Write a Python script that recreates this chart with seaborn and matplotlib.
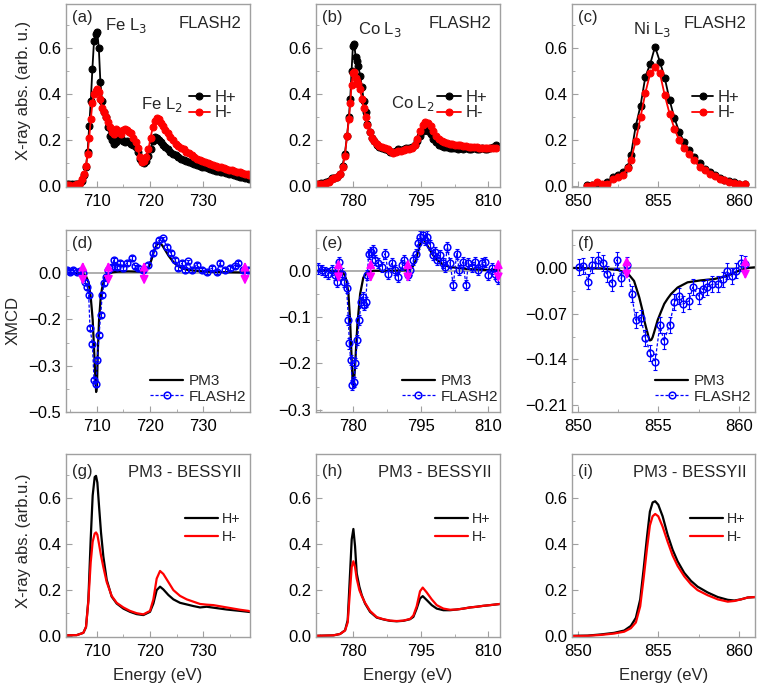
import matplotlib
matplotlib.use("Agg")
import matplotlib.pyplot as plt
from matplotlib.ticker import MultipleLocator, FixedLocator, FixedFormatter
import seaborn as sns

# ---------------- FLASH2 absorption (top row) ----------------
fe_E = [704.4, 704.9, 705.4, 705.9, 706.4, 706.9, 707.3, 707.7, 708.0, 708.3,
        708.6, 708.9, 709.2, 709.5, 709.8, 710.1, 710.4, 710.7, 711.0, 711.3,
        711.7, 712.1, 712.5, 712.9, 713.3, 713.7, 714.1, 714.5, 714.9, 715.3,
        715.7, 716.1, 716.5, 716.9, 717.3, 717.7, 718.1, 718.5, 718.9, 719.3,
        719.7, 720.1, 720.5, 720.9, 721.3, 721.7, 722.1, 722.5, 722.9, 723.3,
        723.8, 724.3, 724.8, 725.3, 725.8, 726.3, 726.8, 727.3, 727.8, 728.3,
        728.8, 729.3, 729.8, 730.3, 730.8, 731.3, 731.8, 732.3, 732.8, 733.3,
        733.8, 734.3, 734.8, 735.3, 735.8, 736.3, 736.8, 737.3, 737.8, 738.3,
        738.6]
fe_hp = [0.012, 0.010, 0.011, 0.009, 0.012, 0.015, 0.025, 0.050, 0.085, 0.150,
         0.260, 0.370, 0.510, 0.630, 0.660, 0.670, 0.600, 0.450, 0.370, 0.320,
         0.300, 0.255, 0.220, 0.200, 0.185, 0.190, 0.205, 0.210, 0.195, 0.190,
         0.195, 0.190, 0.185, 0.180, 0.170, 0.150, 0.120, 0.105, 0.100, 0.110,
         0.130, 0.160, 0.195, 0.215, 0.210, 0.200, 0.190, 0.180, 0.170, 0.160,
         0.150, 0.140, 0.135, 0.125, 0.120, 0.115, 0.110, 0.105, 0.100, 0.095,
         0.092, 0.088, 0.085, 0.082, 0.078, 0.075, 0.072, 0.068, 0.066, 0.063,
         0.060, 0.058, 0.055, 0.052, 0.050, 0.045, 0.042, 0.040, 0.036, 0.034,
         0.030]
fe_hm = [0.004, 0.006, 0.003, 0.005, 0.008, 0.015, 0.030, 0.055, 0.090, 0.140,
         0.210, 0.290, 0.360, 0.400, 0.415, 0.420, 0.410, 0.380, 0.340, 0.320,
         0.300, 0.280, 0.255, 0.235, 0.225, 0.250, 0.240, 0.225, 0.245, 0.250,
         0.245, 0.235, 0.230, 0.210, 0.190, 0.165, 0.125, 0.105, 0.110, 0.125,
         0.160, 0.210, 0.255, 0.285, 0.295, 0.290, 0.275, 0.260, 0.245, 0.230,
         0.215, 0.200, 0.185, 0.175, 0.165, 0.160, 0.150, 0.145, 0.135, 0.125,
         0.120, 0.115, 0.110, 0.105, 0.100, 0.098, 0.093, 0.090, 0.085, 0.082,
         0.078, 0.075, 0.072, 0.070, 0.066, 0.063, 0.060, 0.058, 0.055, 0.052,
         0.050]

co_E = [772.2, 772.8, 773.4, 774.0, 774.6, 775.2, 775.8, 776.4, 777.0, 777.6,
        778.1, 778.6, 779.0, 779.3, 779.6, 779.9, 780.2, 780.5, 780.8, 781.1,
        781.5, 781.9, 782.3, 782.7, 783.1, 783.6, 784.1, 784.6, 785.2, 785.8,
        786.4, 787.0, 787.6, 788.2, 788.8, 789.4, 790.0, 790.6, 791.2, 791.8,
        792.4, 793.0, 793.6, 794.2, 794.8, 795.4, 796.0, 796.6, 797.2, 797.8,
        798.4, 799.0, 799.6, 800.2, 800.8, 801.4, 802.0, 802.6, 803.2, 803.8,
        804.4, 805.0, 805.6, 806.2, 806.8, 807.4, 808.0, 808.6, 809.2, 809.8,
        810.4, 811.0, 811.6]
co_hp = [0.012, 0.014, 0.015, 0.018, 0.022, 0.035, 0.038, 0.042, 0.055, 0.090,
         0.140, 0.220, 0.300, 0.380, 0.500, 0.610, 0.615, 0.560, 0.545, 0.520,
         0.480, 0.430, 0.370, 0.320, 0.270, 0.235, 0.210, 0.195, 0.180, 0.170,
         0.165, 0.160, 0.158, 0.150, 0.150, 0.155, 0.160, 0.158, 0.162, 0.165,
         0.168, 0.172, 0.178, 0.195, 0.220, 0.240, 0.250, 0.240, 0.225, 0.205,
         0.190, 0.180, 0.175, 0.170, 0.170, 0.168, 0.165, 0.165, 0.163, 0.165,
         0.162, 0.165, 0.163, 0.162, 0.165, 0.163, 0.162, 0.165, 0.163, 0.162,
         0.165, 0.170, 0.180]
co_hm = [0.008, 0.010, 0.012, 0.015, 0.020, 0.030, 0.035, 0.040, 0.055, 0.085,
         0.130, 0.220, 0.290, 0.360, 0.440, 0.490, 0.495, 0.470, 0.455, 0.445,
         0.420, 0.380, 0.340, 0.300, 0.265, 0.235, 0.210, 0.195, 0.185, 0.175,
         0.170, 0.165, 0.160, 0.155, 0.145, 0.150, 0.152, 0.155, 0.158, 0.160,
         0.162, 0.165, 0.180, 0.205, 0.240, 0.265, 0.280, 0.275, 0.260, 0.240,
         0.220, 0.205, 0.198, 0.192, 0.188, 0.185, 0.182, 0.180, 0.178, 0.177,
         0.175, 0.174, 0.172, 0.172, 0.170, 0.170, 0.168, 0.168, 0.167, 0.167,
         0.166, 0.165, 0.166]

ni_E = [850.6, 850.9, 851.2, 851.5, 851.8, 852.2, 852.5, 852.8, 853.1, 853.3,
        853.6, 853.9, 854.2, 854.5, 854.8, 855.1, 855.4, 855.7, 856.0, 856.3,
        856.6, 856.9, 857.2, 857.6, 857.9, 858.2, 858.5, 858.8, 859.1, 859.4,
        859.7, 860.0, 860.4]
ni_hp = [0.007, 0.004, 0.006, 0.005, 0.020, 0.040, 0.048, 0.062, 0.084, 0.135,
         0.260, 0.350, 0.475, 0.530, 0.605, 0.540, 0.470, 0.375, 0.295, 0.236,
         0.193, 0.156, 0.128, 0.099, 0.077, 0.062, 0.048, 0.036, 0.029, 0.022,
         0.017, 0.012, 0.009]
ni_hm = [0.003, 0.005, 0.020, 0.012, 0.010, 0.030, 0.040, 0.050, 0.080, 0.115,
         0.195, 0.300, 0.405, 0.490, 0.515, 0.490, 0.395, 0.315, 0.250, 0.200,
         0.164, 0.142, 0.113, 0.084, 0.070, 0.055, 0.045, 0.033, 0.026, 0.019,
         0.014, 0.012, 0.009]

# ---------------- XMCD (middle row) ----------------
fe_xE = [704.4, 705.0, 705.6, 706.3, 706.9, 707.4, 707.8, 708.25, 708.5, 708.75,
         709.2, 709.5, 709.9, 710.1, 710.45, 710.75, 711.05, 711.4, 711.75, 712.2,
         712.8, 713.25, 713.75, 714.4, 715.0, 715.6, 716.55, 717.2, 717.8, 718.75,
         719.7, 720.5, 721.1, 721.75, 722.5, 723.1, 723.9, 724.7, 725.3, 725.95,
         726.55, 727.2, 727.8, 728.75, 729.7, 730.6, 731.55, 732.5, 733.1, 734.05,
         735.0, 735.95, 736.55, 737.5, 738.45]
fe_xmcd = [0.010, 0.005, 0.010, 0.004, 0.006, 0.000, -0.027, -0.045, -0.070, -0.178,
           -0.229, -0.345, -0.360, -0.280, -0.200, -0.135, -0.070, -0.032, -0.011, 0.011,
           0.020, 0.043, 0.020, 0.032, 0.016, 0.032, 0.049, 0.022, 0.016, 0.011,
           0.027, 0.065, 0.092, 0.108, 0.113, 0.086, 0.065, 0.043, 0.016, 0.032,
           0.011, 0.038, 0.011, 0.027, 0.011, 0.005, 0.016, 0.005, 0.032, 0.011,
           0.016, 0.022, 0.032, 0.011, 0.011]
fe_err = 0.006
fe_pmE = [704.25, 706.0, 707.0, 707.6, 708.0, 708.5, 708.9, 709.25, 709.55, 709.75,
          709.9, 710.05, 710.2, 710.45, 710.75, 711.0, 711.5, 712.0, 713.0, 714.0,
          716.0, 718.0, 719.0, 719.8, 720.3, 720.8, 721.3, 721.8, 722.3, 722.8,
          723.5, 724.2, 725.0, 726.0, 727.0, 729.0, 732.0, 735.0, 738.75]
fe_pm = [0.0, 0.0, -0.001, -0.004, -0.01, -0.03, -0.08, -0.15, -0.26, -0.34,
         -0.385, -0.37, -0.26, -0.15, -0.08, -0.05, -0.015, -0.003, 0.003, 0.005,
         0.006, 0.005, 0.008, 0.02, 0.045, 0.075, 0.093, 0.098, 0.09, 0.076,
         0.056, 0.04, 0.026, 0.016, 0.011, 0.007, 0.004, 0.003, 0.002]
fe_arrows = [707.4, 712.2, 718.9, 737.8]

co_xE = [772.2, 773.0, 773.7, 774.4, 775.2, 775.9, 776.4, 776.8, 777.4, 777.9,
         778.5, 778.9, 779.1, 779.4, 779.8, 780.15, 780.45, 780.9, 781.3, 781.7,
         782.1, 782.45, 782.75, 783.1, 783.4, 783.85, 784.3, 784.8, 785.55, 786.3,
         787.05, 787.8, 788.5, 789.25, 790.0, 790.75, 791.35, 792.05, 792.6, 793.35,
         793.85, 794.3, 794.8, 795.4, 795.95, 796.3, 797.05, 797.65, 798.15, 798.65,
         799.25, 799.85, 800.35, 800.9, 801.5, 802.2, 802.95, 803.55, 804.3, 805.05,
         805.55, 806.3, 807.05, 807.8, 808.5, 809.25, 810.0, 810.75, 811.5, 812.2]
co_xmcd = [0.005, 0.001, -0.002, -0.006, 0.001, -0.009, -0.024, 0.019, -0.006, -0.024,
           -0.038, -0.107, -0.157, -0.193, -0.247, -0.240, -0.200, -0.150, -0.107, -0.067,
           -0.056, -0.074, -0.067, -0.009, 0.037, 0.041, 0.045, 0.023, 0.016, 0.009,
           0.037, -0.006, 0.016, 0.001, -0.013, 0.012, 0.023, -0.009, 0.001, 0.023,
           0.037, 0.059, 0.074, 0.077, 0.066, 0.074, 0.056, 0.034, 0.041, 0.023,
           0.034, 0.016, 0.009, 0.052, 0.016, -0.031, 0.037, 0.001, 0.019, -0.031,
           0.016, 0.009, 0.019, 0.001, 0.016, 0.019, -0.009, 0.005, -0.006, -0.017]
co_err = 0.011
co_pmE = [771.7, 775.6, 777.4, 778.0, 778.5, 778.9, 779.26, 779.63, 779.85, 780.0,
          780.15, 780.37, 780.9, 781.5, 782.2, 782.96, 784.4, 788.1, 791.85, 793.0,
          793.7, 794.4, 795.0, 795.4, 795.9, 796.7, 797.6, 798.5, 800.0, 801.5,
          805.2, 808.9, 812.6]
co_pm = [0.0, 0.0, -0.002, -0.008, -0.022, -0.05, -0.105, -0.195, -0.24, -0.25,
         -0.24, -0.205, -0.115, -0.05, -0.015, -0.004, 0.0, 0.0, 0.001, 0.006,
         0.018, 0.042, 0.062, 0.068, 0.064, 0.05, 0.035, 0.024, 0.013, 0.008,
         0.004, 0.002, 0.001]
co_arrows = [776.7, 783.85, 792.1, 812.2]

ni_xE = [850.1, 850.35, 850.65, 850.9, 851.25, 851.55, 851.8, 852.1, 852.45, 852.7,
         853.05, 853.35, 853.6, 853.9, 854.2, 854.5, 854.8, 855.1, 855.35, 855.7,
         856.0, 856.3, 856.55, 856.9, 857.15, 857.5, 857.75, 858.05, 858.35, 858.7,
         859.0, 859.25, 859.55, 859.85, 860.15, 860.4]
ni_xmcd = [0.001, 0.0025, -0.021, 0.005, 0.0126, 0.0076, -0.009, -0.0227, 0.0126, -0.016,
           0.005, -0.040, -0.080, -0.076, -0.107, -0.130, -0.144, -0.087, -0.112, -0.087,
           -0.052, -0.043, -0.0555, -0.0505, -0.029, -0.043, -0.032, -0.029, -0.025, -0.025,
           -0.0177, -0.005, -0.0126, -0.004, 0.0076, 0.006]
ni_err = 0.012
ni_pmE = [849.65, 851.44, 852.47, 853.1, 853.5, 853.82, 853.92, 854.03, 854.13, 854.23,
          854.34, 854.4, 854.48, 854.57, 854.65, 854.75, 854.96, 855.17, 855.37, 855.58,
          855.79, 856.2, 856.82, 857.65, 858.48, 859.3, 859.93, 860.55, 861.0]
ni_pm = [0.0, -0.001, -0.003, -0.008, -0.02, -0.045, -0.055, -0.066, -0.08, -0.09,
         -0.1, -0.106, -0.111, -0.11, -0.106, -0.098, -0.08, -0.067, -0.055, -0.047,
         -0.04, -0.03, -0.022, -0.019, -0.017, -0.012, -0.005, 0.0, 0.001]
ni_arrows = [853.05, 860.4]

# ---------------- PM3 - BESSYII absorption (bottom row) ----------------
g_E = [704.25, 706.25, 707.5, 708.0, 708.44, 708.88, 709.25, 709.63, 709.88, 710.13,
       710.44, 710.81, 711.25, 711.88, 712.81, 713.75, 715.0, 716.25, 717.5, 718.75,
       720.0, 720.63, 721.25, 721.88, 722.5, 723.44, 724.38, 725.63, 726.88, 728.13,
       729.38, 730.63, 731.88, 733.13, 734.38, 735.63, 736.88, 738.44, 738.75]
g_hp = [0.004, 0.005, 0.015, 0.040, 0.157, 0.420, 0.610, 0.690, 0.695, 0.666,
        0.565, 0.450, 0.346, 0.245, 0.172, 0.142, 0.120, 0.106, 0.096, 0.092,
        0.106, 0.142, 0.200, 0.215, 0.203, 0.179, 0.160, 0.145, 0.138, 0.131,
        0.125, 0.128, 0.124, 0.120, 0.116, 0.113, 0.110, 0.106, 0.105]
g_hm = [0.004, 0.005, 0.015, 0.040, 0.150, 0.320, 0.410, 0.445, 0.450, 0.440,
        0.400, 0.350, 0.300, 0.235, 0.175, 0.145, 0.125, 0.110, 0.100, 0.095,
        0.110, 0.160, 0.250, 0.283, 0.270, 0.235, 0.200, 0.175, 0.160, 0.150,
        0.140, 0.137, 0.135, 0.130, 0.125, 0.120, 0.115, 0.110, 0.108]

h_E = [771.7, 775.56, 777.04, 778.15, 778.74, 779.26, 779.63, 780.0, 780.37, 780.74,
       781.33, 781.85, 782.59, 783.7, 785.19, 786.67, 788.15, 789.63, 791.11, 792.59,
       793.33, 794.07, 794.81, 795.41, 796.3, 797.41, 798.52, 800.0, 801.48, 802.96,
       804.44, 805.93, 807.41, 808.89, 810.37, 812.59]
h_hp = [0.002, 0.004, 0.010, 0.026, 0.070, 0.273, 0.420, 0.465, 0.390, 0.273,
        0.215, 0.179, 0.142, 0.106, 0.081, 0.073, 0.067, 0.065, 0.067, 0.074,
        0.084, 0.120, 0.164, 0.174, 0.157, 0.135, 0.120, 0.113, 0.113, 0.116,
        0.120, 0.125, 0.128, 0.132, 0.135, 0.140]
h_hm = [0.002, 0.004, 0.010, 0.025, 0.060, 0.200, 0.300, 0.325, 0.300, 0.250,
        0.200, 0.175, 0.145, 0.110, 0.083, 0.074, 0.068, 0.066, 0.068, 0.075,
        0.090, 0.130, 0.195, 0.211, 0.190, 0.160, 0.135, 0.120, 0.115, 0.116,
        0.120, 0.125, 0.128, 0.132, 0.135, 0.140]

i_E = [849.68, 850.61, 851.44, 852.27, 852.89, 853.3, 853.61, 853.88, 854.09, 854.3,
       854.48, 854.65, 854.81, 855.0, 855.27, 855.58, 855.89, 856.2, 856.61, 857.03,
       857.44, 858.06, 858.69, 859.31, 859.72, 860.13, 860.55, 861.0]
i_hp = [0.002, 0.003, 0.008, 0.015, 0.025, 0.045, 0.080, 0.160, 0.290, 0.430,
        0.540, 0.580, 0.585, 0.570, 0.520, 0.440, 0.375, 0.325, 0.275, 0.240,
        0.215, 0.190, 0.170, 0.158, 0.155, 0.160, 0.168, 0.170]
i_hm = [0.001, 0.002, 0.006, 0.012, 0.020, 0.035, 0.060, 0.130, 0.250, 0.380,
        0.480, 0.520, 0.530, 0.520, 0.475, 0.410, 0.350, 0.305, 0.260, 0.225,
        0.200, 0.178, 0.160, 0.150, 0.153, 0.160, 0.168, 0.170]

# tick labels of the XMCD panels (as printed in the figure)
fe_yt = [0.0, -0.15, -0.30, -0.45]
fe_ytl = ["0.0", "\u22120.2", "\u22120.3", "\u22120.5"]
co_yt = [0.0, -0.1, -0.2, -0.3]
co_ytl = ["0.0", "\u22120.1", "\u22120.2", "\u22120.3"]
ni_yt = [0.0, -0.07, -0.14, -0.21]
ni_ytl = ["0.00", "\u22120.07", "\u22120.14", "\u22120.21"]

#%%
sns.set_style("ticks")
plt.rcParams["font.family"] = ["Liberation Sans", "DejaVu Sans"]
plt.rcParams["axes.unicode_minus"] = True

FS = 12
FS_MID = 11
FS_BOT = 10.3
GRAY = "#a0a0a0"

fig = plt.figure(figsize=(7.63, 6.85), dpi=100)
lefts = [0.0865, 0.4142, 0.7497]
widths = [0.2412, 0.2412, 0.2398]
bottoms = [0.7270, 0.3985, 0.0701]
heights = [0.2672, 0.2657, 0.2672]
axs = [[fig.add_axes([lefts[c], bottoms[r], widths[c], heights[r]]) for c in range(3)]
       for r in range(3)]

xlims = [(704.25, 738.75), (771.7, 812.6), (849.65, 861.0)]
xmaj = [10, 15, 5]
xmin = [5, 7.5, 2.5]


def style(ax, c):
    ax.set_xlim(*xlims[c])
    ax.xaxis.set_major_locator(MultipleLocator(xmaj[c]))
    ax.xaxis.set_minor_locator(MultipleLocator(xmin[c]))
    for s in ax.spines.values():
        s.set_color(GRAY)
        s.set_linewidth(1.0)
    ax.tick_params(which="both", direction="in", color=GRAY, labelsize=FS,
                   labelcolor="black", top=False, right=False)
    ax.tick_params(which="major", length=4)
    ax.tick_params(which="minor", length=2.5)
    ax.tick_params(axis="x", pad=5)
    ax.tick_params(axis="y", pad=3.5)
    ax.set_xlabel("")
    ax.set_ylabel("")


def spectra(ax, e, hp, hm, dots, lx, ly, hl, fs, sp):
    if dots:
        kw = dict(marker="o", markersize=5, linewidth=1.3)
    else:
        kw = dict(linewidth=1.6)
    sns.lineplot(x=e, y=hp, ax=ax, color="black", markeredgecolor="black",
                 label="H+", sort=False, estimator=None, **kw)
    sns.lineplot(x=e, y=hm, ax=ax, color="red", markeredgecolor="red",
                 label="H-", sort=False, estimator=None, **kw)
    ax.set_ylim(-0.003, 0.79)
    ax.yaxis.set_major_locator(MultipleLocator(0.2))
    ax.yaxis.set_minor_locator(MultipleLocator(0.1))
    ax.legend(loc="center left", bbox_to_anchor=(lx, ly), frameon=False,
              fontsize=fs, handlelength=hl, handletextpad=0.3, labelspacing=sp,
              borderpad=0, borderaxespad=0)


def xmcd(ax, pe, pv, xe, xv, err, arrows, ylim, yt, ytl, ymin_step, lx):
    ax.axhline(0, color="#999999", linewidth=1.1, zorder=0.5)
    sns.lineplot(x=pe, y=pv, ax=ax, color="black", linewidth=1.6, label="PM3",
                 sort=False, estimator=None)
    ax.errorbar(xe, xv, yerr=err, fmt="none", ecolor="blue", elinewidth=0.8,
                capsize=1.3, capthick=0.8, zorder=2)
    sns.lineplot(x=xe, y=xv, ax=ax, color="blue", linewidth=0.9,
                 linestyle=(0, (2.5, 1.5)),
                 marker="o", markersize=4.8, markerfacecolor="none",
                 markeredgecolor="blue", markeredgewidth=1.1, label="FLASH2",
                 sort=False, estimator=None)
    ax.set_ylim(*ylim)
    half = (ylim[1] - ylim[0]) * 11.5 / 182
    for e in arrows:
        ax.annotate("", xy=(e, half), xytext=(e, -half),
                    arrowprops=dict(arrowstyle="<|-|>,head_length=0.5,head_width=0.25",
                                    color="magenta", lw=1.3, mutation_scale=10,
                                    shrinkA=0, shrinkB=0), zorder=5)
    ax.yaxis.set_major_locator(FixedLocator(yt))
    ax.yaxis.set_major_formatter(FixedFormatter(ytl))
    ax.yaxis.set_minor_locator(MultipleLocator(ymin_step))
    ax.legend(loc="center left", bbox_to_anchor=(lx, 0.127), frameon=False,
              fontsize=FS_MID, handlelength=2.2, handletextpad=0.35, labelspacing=0.1,
              borderpad=0, borderaxespad=0)


# top row
spectra(axs[0][0], fe_E, fe_hp, fe_hm, True, 0.667, 0.448, 1.25, FS, 0.05)
spectra(axs[0][1], co_E, co_hp, co_hm, True, 0.657, 0.448, 1.45, FS, 0.05)
spectra(axs[0][2], ni_E, ni_hp, ni_hm, True, 0.657, 0.448, 1.25, FS, 0.05)
# middle row
xmcd(axs[1][0], fe_pmE, fe_pm, fe_xE, fe_xmcd, fe_err, fe_arrows,
     (-0.45, 0.14), fe_yt, fe_ytl, 0.075, 0.455)
xmcd(axs[1][1], co_pmE, co_pm, co_xE, co_xmcd, co_err, co_arrows,
     (-0.305, 0.088), co_yt, co_ytl, 0.05, 0.465)
xmcd(axs[1][2], ni_pmE, ni_pm, ni_xE, ni_xmcd, ni_err, ni_arrows,
     (-0.2205, 0.058), ni_yt, ni_ytl, 0.035, 0.452)
# bottom row
spectra(axs[2][0], g_E, g_hp, g_hm, False, 0.645, 0.596, 2.3, FS_BOT, 0.25)
spectra(axs[2][1], h_E, h_hp, h_hm, False, 0.645, 0.596, 2.3, FS_BOT, 0.25)
spectra(axs[2][2], i_E, i_hp, i_hm, False, 0.645, 0.596, 2.3, FS_BOT, 0.25)

for r in range(3):
    for c in range(3):
        style(axs[r][c], c)

# panel letters and annotations
letters = [["(a)", "(b)", "(c)"], ["(d)", "(e)", "(f)"], ["(g)", "(h)", "(i)"]]
letter_y = [0.925, 0.925, 0.905]
for r in range(3):
    for c in range(3):
        axs[r][c].text(0.03, letter_y[r], letters[r][c], transform=axs[r][c].transAxes,
                       fontsize=FS, ha="left", va="center")
for c in range(3):
    axs[0][c].text(0.955, 0.895, "FLASH2", transform=axs[0][c].transAxes,
                   fontsize=FS, ha="right", va="center")
    axs[2][c].text(0.952, 0.897, "PM3 - BESSYII", transform=axs[2][c].transAxes,
                   fontsize=FS, ha="right", va="center")

edges = [("Fe L$_3$", 0, 0.212, 0.885), ("Fe L$_2$", 0, 0.41, 0.45),
         ("Co L$_3$", 1, 0.23, 0.858), ("Co L$_2$", 1, 0.408, 0.457),
         ("Ni L$_3$", 2, 0.332, 0.862)]
for txt, c, x, y in edges:
    axs[0][c].text(x, y, txt, transform=axs[0][c].transAxes, fontsize=FS,
                   ha="left", va="center")

axs[0][0].set_ylabel("X-ray abs. (arb. u.)", fontsize=FS)
axs[0][0].yaxis.set_label_coords(-0.19, 0.53)
axs[1][0].set_ylabel("XMCD", fontsize=FS)
axs[1][0].yaxis.set_label_coords(-0.245, 0.505)
axs[2][0].set_ylabel("X-ray abs. (arb.u.)", fontsize=FS)
axs[2][0].yaxis.set_label_coords(-0.19, 0.525)
for c in range(3):
    axs[2][c].set_xlabel("Energy (eV)", fontsize=FS)
    axs[2][c].xaxis.set_label_coords(0.5, -0.17)

fig.savefig("out.png", dpi=100)
